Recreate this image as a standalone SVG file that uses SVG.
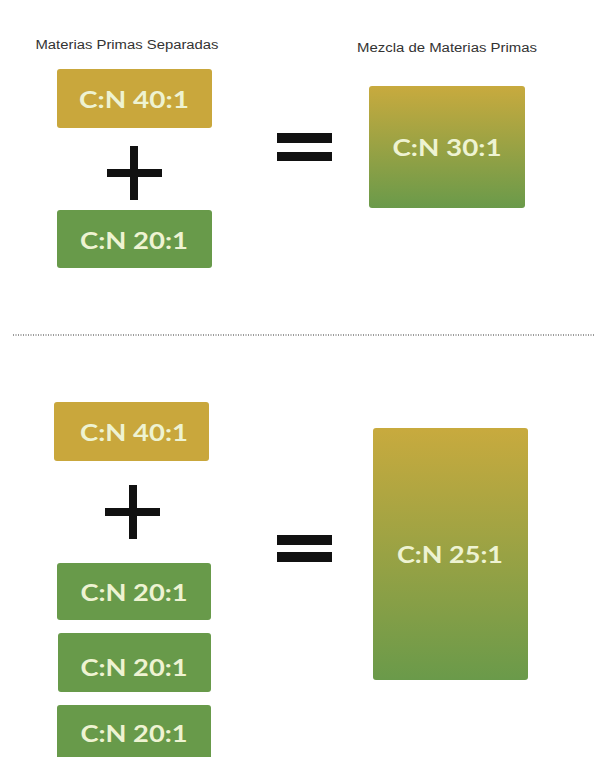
<svg xmlns="http://www.w3.org/2000/svg" width="595" height="757" viewBox="0 0 595 757">
<defs>
<linearGradient id="mix" x1="0" y1="0" x2="0" y2="1">
<stop offset="0" stop-color="#C8AA3E"/>
<stop offset="1" stop-color="#6A9A4A"/>
</linearGradient>
<style>
.gold{fill:#C9A73C}
.green{fill:#689A4A}
.lbl{font-family:Lato,"Open Sans",sans-serif;font-weight:bold;font-size:23px;fill:#EEF3D2;text-anchor:middle}
.title{font-family:"Liberation Sans",Arial,sans-serif;font-size:12px;fill:#333;text-anchor:middle}
.sym{fill:#111}
</style>
</defs>
<rect width="595" height="757" fill="#fff"/>
<text class="title" x="127" y="49" textLength="183" lengthAdjust="spacingAndGlyphs">Materias Primas Separadas</text>
<text class="title" x="447" y="52" textLength="180" lengthAdjust="spacingAndGlyphs">Mezcla de Materias Primas</text>
<g id="top-40">
<rect class="gold" x="57" y="69" width="155" height="59" rx="3"/>
<text class="lbl" x="134" y="108" textLength="110" lengthAdjust="spacingAndGlyphs">C:N 40:1</text>
</g>
<g id="top-plus">
<rect class="sym" x="107" y="169" width="55" height="8"/>
<rect class="sym" x="130" y="146" width="8" height="54"/>
</g>
<g id="top-20">
<rect class="green" x="57" y="210" width="155" height="58" rx="3"/>
<text class="lbl" x="134" y="249" textLength="108" lengthAdjust="spacingAndGlyphs">C:N 20:1</text>
</g>
<g id="top-equals">
<rect class="sym" x="277" y="133" width="55" height="10"/>
<rect class="sym" x="277" y="152" width="55" height="9"/>
</g>
<g id="top-30">
<rect fill="url(#mix)" x="369" y="86" width="156" height="122" rx="3"/>
<text class="lbl" x="447" y="156" textLength="109" lengthAdjust="spacingAndGlyphs">C:N 30:1</text>
</g>
<g id="connectors">
<line x1="13" y1="335" x2="595" y2="335" stroke="#999" stroke-width="2" stroke-dasharray="1 1.5"/>
</g>
<g id="bot-40">
<rect class="gold" x="54" y="402" width="155" height="59" rx="3"/>
<text class="lbl" x="134" y="441" textLength="108" lengthAdjust="spacingAndGlyphs">C:N 40:1</text>
</g>
<g id="bot-plus">
<rect class="sym" x="105" y="508" width="55" height="8"/>
<rect class="sym" x="129" y="485" width="8" height="54"/>
</g>
<g id="bot-20a">
<rect class="green" x="57" y="563" width="154" height="57" rx="3"/>
<text class="lbl" x="134" y="601" textLength="107" lengthAdjust="spacingAndGlyphs">C:N 20:1</text>
</g>
<g id="bot-20b">
<rect class="green" x="58" y="633" width="153" height="59" rx="3"/>
<text class="lbl" x="134" y="676" textLength="107" lengthAdjust="spacingAndGlyphs">C:N 20:1</text>
</g>
<g id="bot-20c">
<rect class="green" x="57" y="705" width="154" height="60" rx="3"/>
<text class="lbl" x="134" y="742" textLength="107" lengthAdjust="spacingAndGlyphs">C:N 20:1</text>
</g>
<g id="bot-equals">
<rect class="sym" x="277" y="535" width="55" height="10"/>
<rect class="sym" x="277" y="552" width="55" height="10"/>
</g>
<g id="bot-25">
<rect fill="url(#mix)" x="373" y="428" width="155" height="252" rx="3"/>
<text class="lbl" x="450" y="563" textLength="106" lengthAdjust="spacingAndGlyphs">C:N 25:1</text>
</g>
</svg>
